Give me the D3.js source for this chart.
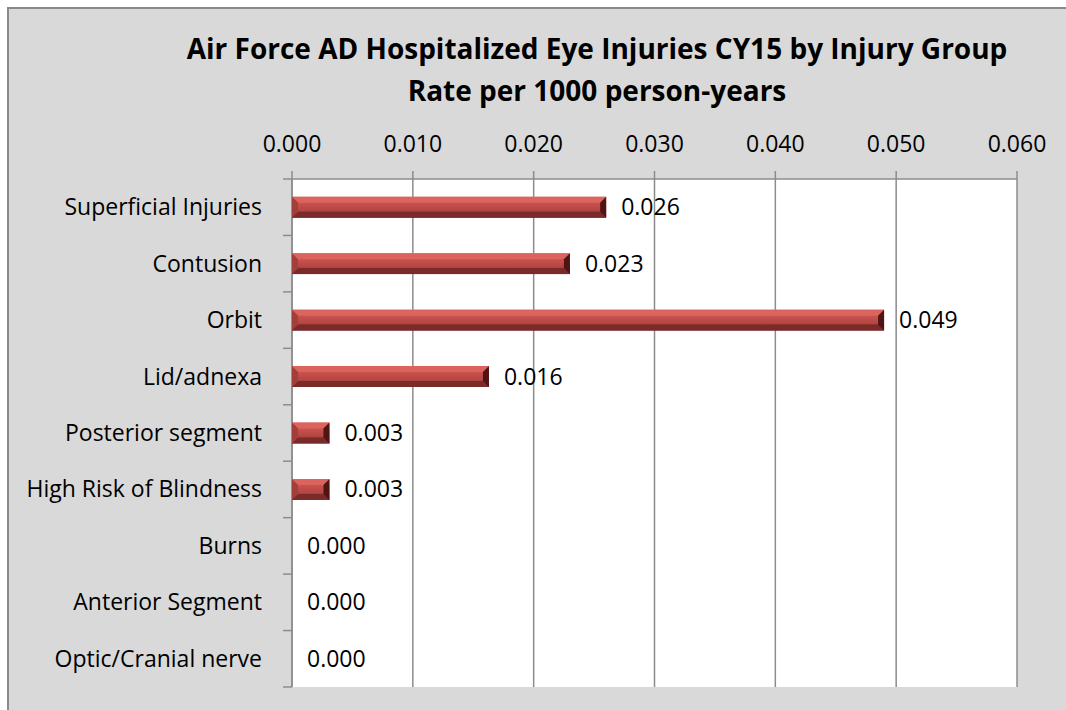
<!DOCTYPE html>
<html>
<head>
<meta charset="utf-8">
<script src="https://cdn.jsdelivr.net/npm/d3@7"></script>
<style>
  body { margin: 0; background: #fff; }
  text { font-family: "Open Sans", sans-serif; fill: #000; }
</style>
</head>
<body>
<svg id="chart"></svg>
<script>
// chart data
const titleLines = ["Air Force AD Hospitalized Eye Injuries CY15 by Injury Group", "Rate per 1000 person-years"];
const categories = ["Superficial Injuries", "Contusion", "Orbit", "Lid/adnexa", "Posterior segment",
  "High Risk of Blindness", "Burns", "Anterior Segment", "Optic/Cranial nerve"];
const rates = [0.026, 0.023, 0.049, 0.0163, 0.0031, 0.0031, 0, 0, 0];
const xTicks = [0, 0.01, 0.02, 0.03, 0.04, 0.05, 0.06];

const width = 1066, height = 710;
const margin = {top: 179, right: 49, bottom: 23, left: 292};

const svg = d3.select("#chart")
  .attr("width", width)
  .attr("height", height);

// outer chart area
svg.append("rect")
  .attr("x", 8).attr("y", 8)
  .attr("width", width + 10).attr("height", height + 10)
  .attr("fill", "#d9d9d9")
  .attr("stroke", "#8a8a8a")
  .attr("stroke-width", 2);

const x = d3.scaleLinear()
  .domain([0, 0.06])
  .range([margin.left, width - margin.right]);

const y = d3.scaleBand()
  .domain(categories)
  .range([margin.top, height - margin.bottom])
  .paddingInner(0.63)
  .paddingOuter(0.315);

const yFull = d3.scaleBand()
  .domain(categories)
  .range([margin.top, height - margin.bottom]);

// plot area
svg.append("rect")
  .attr("x", x(0)).attr("y", margin.top)
  .attr("width", x(0.06) - x(0))
  .attr("height", height - margin.bottom - margin.top)
  .attr("fill", "#fff");

// gridlines
svg.append("g")
  .selectAll("line")
  .data(xTicks)
  .join("line")
  .attr("x1", d => x(d)).attr("x2", d => x(d))
  .attr("y1", margin.top - 8).attr("y2", height - margin.bottom)
  .attr("stroke", "#8c8c8c")
  .attr("stroke-width", 1.5);

// top axis line
svg.append("line")
  .attr("x1", x(0)).attr("x2", x(0.06))
  .attr("y1", margin.top).attr("y2", margin.top)
  .attr("stroke", "#8c8c8c").attr("stroke-width", 1.5);

// x tick labels
svg.append("g")
  .selectAll("text")
  .data(xTicks)
  .join("text")
  .attr("x", d => x(d))
  .attr("y", 152)
  .attr("text-anchor", "middle")
  .attr("font-size", 23)
  .text(d => d3.format(".3f")(d));

// y axis line + ticks
svg.append("line")
  .attr("x1", x(0)).attr("x2", x(0))
  .attr("y1", margin.top).attr("y2", height - margin.bottom)
  .attr("stroke", "#8c8c8c").attr("stroke-width", 1.5);

const tickYs = categories.map(c => yFull(c)).concat([height - margin.bottom]);
svg.append("g")
  .selectAll("line")
  .data(tickYs)
  .join("line")
  .attr("x1", x(0) - 9).attr("x2", x(0))
  .attr("y1", d => d).attr("y2", d => d)
  .attr("stroke", "#8c8c8c").attr("stroke-width", 1.5);

// category labels
svg.append("g")
  .selectAll("text")
  .data(categories)
  .join("text")
  .attr("x", 262)
  .attr("y", d => yFull(d) + yFull.bandwidth() / 2)
  .attr("dy", "0.35em")
  .attr("text-anchor", "end")
  .attr("font-size", 23)
  .text(d => d);

// bar gradient
const defs = svg.append("defs");
const grad = defs.append("linearGradient")
  .attr("id", "barGrad")
  .attr("x1", 0).attr("y1", 0).attr("x2", 0).attr("y2", 1);
grad.append("stop").attr("offset", "0%").attr("stop-color", "#e0706b");
grad.append("stop").attr("offset", "30%").attr("stop-color", "#c9524e");
grad.append("stop").attr("offset", "65%").attr("stop-color", "#b44642");
grad.append("stop").attr("offset", "100%").attr("stop-color", "#6e2422");

const bars = svg.append("g")
  .selectAll("g")
  .data(categories.map((c, i) => ({cat: c, v: rates[i]})).filter(d => d.v > 0))
  .join("g");

const bev = 6;
bars.append("rect")
  .attr("x", x(0))
  .attr("y", d => y(d.cat))
  .attr("width", d => x(d.v) - x(0))
  .attr("height", y.bandwidth())
  .attr("fill", "url(#barGrad)");

// top bevel highlight
bars.append("path")
  .attr("d", d => {
    const x0 = x(0), x1 = x(d.v), y0 = y(d.cat);
    return `M${x0},${y0}L${x1},${y0}L${x1 - bev},${y0 + bev}L${x0 + bev},${y0 + bev}Z`;
  })
  .attr("fill", "#db645f");

// bottom bevel shadow
bars.append("path")
  .attr("d", d => {
    const x0 = x(0), x1 = x(d.v), y1 = y(d.cat) + y.bandwidth();
    return `M${x0},${y1}L${x1},${y1}L${x1 - bev},${y1 - bev}L${x0 + bev},${y1 - bev}Z`;
  })
  .attr("fill", "#7a2a28");

// right end bevel
bars.append("path")
  .attr("d", d => {
    const x1 = x(d.v), y0 = y(d.cat), y1 = y0 + y.bandwidth();
    return `M${x1},${y0}L${x1},${y1}L${x1 - bev},${y1 - bev}L${x1 - bev},${y0 + bev}Z`;
  })
  .attr("fill", "#4f1514");

// left end bevel
bars.append("path")
  .attr("d", d => {
    const x0 = x(0), y0 = y(d.cat), y1 = y0 + y.bandwidth();
    return `M${x0},${y0}L${x0},${y1}L${x0 + bev},${y1 - bev}L${x0 + bev},${y0 + bev}Z`;
  })
  .attr("fill", "#a23e3b");

// value labels
svg.append("g")
  .selectAll("text")
  .data(categories)
  .join("text")
  .attr("x", (d, i) => x(rates[i]) + 15)
  .attr("y", d => yFull(d) + yFull.bandwidth() / 2)
  .attr("dy", "0.35em")
  .attr("font-size", 23)
  .text((d, i) => d3.format(".3f")(rates[i]));

// title
svg.append("g")
  .selectAll("text")
  .data(titleLines)
  .join("text")
  .attr("x", 597)
  .attr("y", (d, i) => 59 + i * 42)
  .attr("text-anchor", "middle")
  .attr("font-size", 28)
  .attr("font-weight", "bold")
  .text(d => d);
</script>
</body>
</html>
